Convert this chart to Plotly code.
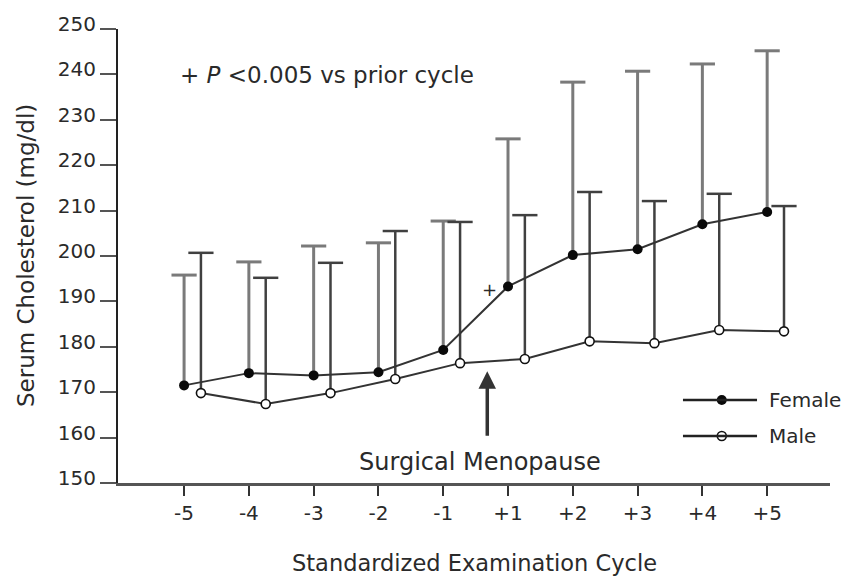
import plotly.graph_objects as go

# Examination cycles relative to surgical menopause
cycles = ["-5", "-4", "-3", "-2", "-1", "+1", "+2", "+3", "+4", "+5"]

# Mean serum cholesterol (mg/dl) and the upper end of each SD bar
female_mean = [171.5, 174.2, 173.7, 174.4, 179.3, 193.3, 200.2, 201.5, 207.0, 209.7]
female_upper = [195.8, 198.7, 202.2, 202.9, 207.7, 225.8, 238.3, 240.7, 242.3, 245.2]
male_mean = [169.8, 167.4, 169.8, 172.9, 176.4, 177.3, 181.2, 180.8, 183.7, 183.4]
male_upper = [200.7, 195.2, 198.5, 205.5, 207.5, 209.0, 214.1, 212.1, 213.7, 211.0]

# Cycles where the female mean differs from the prior cycle (P < 0.005)
signif_cycles = ["+1"]

FONT = "DejaVu Sans"
TXT = "#2a2a2a"
X_RANGE = [-1.02, 9.97]
Y_RANGE = [150, 250]
MALE_OFFSET = 0.26  # male points sit just right of each cycle tick

xf = list(range(len(cycles)))
xm = [i + MALE_OFFSET for i in xf]
f_err = [u - m for u, m in zip(female_upper, female_mean)]
m_err = [u - m for u, m in zip(male_upper, male_mean)]

fig = go.Figure()

# SD stems (caps drawn separately so no cap appears at the mean)
fig.add_trace(go.Scatter(
    x=xf, y=female_mean, mode="none", showlegend=False, hoverinfo="skip",
    error_y=dict(type="data", symmetric=False, array=f_err,
                 arrayminus=[0] * len(f_err), width=0,
                 thickness=3, color="#7a7a7a")))
fig.add_trace(go.Scatter(
    x=xm, y=male_mean, mode="none", showlegend=False, hoverinfo="skip",
    error_y=dict(type="data", symmetric=False, array=m_err,
                 arrayminus=[0] * len(m_err), width=0,
                 thickness=2.5, color="#404040")))

# SD caps
fig.add_trace(go.Scatter(
    x=xf, y=female_upper, mode="markers", showlegend=False, hoverinfo="skip",
    marker=dict(symbol="line-ew", size=18,
                line=dict(width=3, color="#7a7a7a"))))
fig.add_trace(go.Scatter(
    x=xm, y=male_upper, mode="markers", showlegend=False, hoverinfo="skip",
    marker=dict(symbol="line-ew", size=18,
                line=dict(width=2.5, color="#404040"))))

# Mean lines
fig.add_trace(go.Scatter(
    x=xm, y=male_mean, mode="lines+markers", name="Male", showlegend=False,
    line=dict(color="#333333", width=2),
    marker=dict(symbol="circle", size=9, color="white",
                line=dict(color="#111111", width=1.6))))
fig.add_trace(go.Scatter(
    x=xf, y=female_mean, mode="lines+markers", name="Female", showlegend=False,
    line=dict(color="#333333", width=2),
    marker=dict(symbol="circle", size=10, color="#0a0a0a",
                line=dict(color="#0a0a0a", width=0))))


# Hand-drawn key in the lower right corner
def px(frac):
    return X_RANGE[0] + frac * (X_RANGE[1] - X_RANGE[0])


def py(frac):
    return Y_RANGE[0] + frac * (Y_RANGE[1] - Y_RANGE[0])


key_x0, key_x1, key_mid, key_txt = 0.7935, 0.8975, 0.848, 0.9115
key_rows = [("Female", 0.1828), ("Male", 0.1035)]
for label, yy in key_rows:
    fig.add_shape(type="line", xref="paper", yref="paper",
                  x0=key_x0, x1=key_x1, y0=yy, y1=yy,
                  line=dict(color="#222222", width=2.5))
    fig.add_annotation(x=key_txt, y=yy, xref="paper", yref="paper",
                       text=label, showarrow=False, xanchor="left",
                       yanchor="middle",
                       font=dict(family=FONT, size=20, color=TXT))
fig.add_trace(go.Scatter(
    x=[px(key_mid)], y=[py(key_rows[0][1])], mode="markers",
    showlegend=False, hoverinfo="skip", cliponaxis=False,
    marker=dict(symbol="circle", size=10, color="#0a0a0a")))
fig.add_trace(go.Scatter(
    x=[px(key_mid)], y=[py(key_rows[1][1])], mode="markers",
    showlegend=False, hoverinfo="skip", cliponaxis=False,
    marker=dict(symbol="circle", size=9, color="white",
                line=dict(color="#111111", width=1.6))))

# Significance marks next to the female means
for c in signif_cycles:
    i = cycles.index(c)
    fig.add_annotation(x=xf[i], y=female_mean[i], text="+", showarrow=False,
                       xshift=-19, yshift=-3,
                       font=dict(family=FONT, size=18, color=TXT))

fig.add_annotation(x=0.0843, y=0.899, xref="paper", yref="paper",
                   text="+ <i>P</i> &lt;0.005 vs prior cycle", showarrow=False,
                   xanchor="left", yanchor="middle",
                   font=dict(family=FONT, size=23, color=TXT))

# Surgical menopause marker
fig.add_annotation(x=4.68, y=174.6, ax=0, ay=66, text="", showarrow=True,
                   arrowhead=2, arrowsize=1.0, arrowwidth=3.5,
                   arrowcolor="#333333")
fig.add_annotation(x=0.5084, y=0.0463, xref="paper", yref="paper",
                   text="Surgical Menopause", showarrow=False,
                   xanchor="center", yanchor="middle",
                   font=dict(family=FONT, size=24, color=TXT))

# Axis titles
fig.add_annotation(x=0.5, y=-0.177, xref="paper", yref="paper",
                   text="Standardized Examination Cycle", showarrow=False,
                   xanchor="center", yanchor="middle",
                   font=dict(family=FONT, size=22.5, color=TXT))
fig.add_annotation(x=-0.1292, y=0.5, xref="paper", yref="paper",
                   text="Serum Cholesterol (mg/dl)", showarrow=False,
                   textangle=-90, xanchor="center", yanchor="middle",
                   font=dict(family=FONT, size=23, color=TXT))

fig.update_xaxes(
    range=X_RANGE, tickmode="array", tickvals=xf, ticktext=cycles,
    showline=True, linecolor="#555555", linewidth=3,
    ticks="outside", ticklen=10, tickwidth=2, tickcolor="#333333",
    ticklabelstandoff=0, showgrid=False, zeroline=False,
    tickfont=dict(family=FONT, size=20, color=TXT))
fig.update_yaxes(
    range=Y_RANGE, dtick=10, tick0=150,
    showline=True, linecolor="#222222", linewidth=2,
    ticks="outside", ticklen=16, tickwidth=2, tickcolor="#555555",
    ticklabelshift=-5, showgrid=False, zeroline=False,
    tickfont=dict(family=FONT, size=20, color=TXT))

fig.update_layout(
    width=846, height=577,
    margin=dict(l=118, r=16, t=29, b=94),
    paper_bgcolor="white", plot_bgcolor="white",
    showlegend=False,
)

fig.write_html("out.html")
